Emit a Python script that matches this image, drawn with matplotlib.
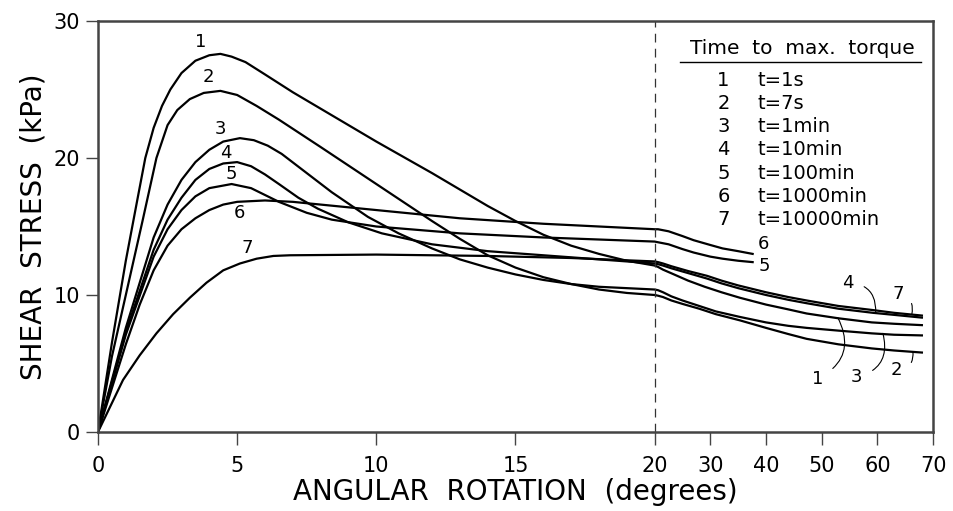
import numpy as np
import matplotlib
matplotlib.use("Agg")
import matplotlib.pyplot as plt

plt.rcParams['font.family'] = ['DejaVu Sans']

# curves: angular rotation (deg) vs shear stress (kPa)
x1 = [0, 0.5, 1, 1.4, 1.7, 2.0, 2.3, 2.6, 3.0, 3.5, 4.0, 4.4, 4.8, 5.3, 6, 7, 8, 10, 12, 13, 14, 15,
      16, 17, 18, 19, 20, 20.6, 21.5, 23.2, 26, 29, 32, 35.3, 40, 44, 47.3, 53, 59, 63, 68]
y1 = [0, 6.5, 12.5, 16.8, 20.0, 22.2, 23.8, 25.0, 26.2, 27.1, 27.5, 27.6, 27.4, 27.0, 26.1, 24.8, 23.6, 21.2, 18.9, 17.7, 16.5, 15.4,
      14.4, 13.6, 13.0, 12.5, 12.15, 12.05, 11.85, 11.55, 11.05, 10.6, 10.2, 9.8, 9.3, 8.95, 8.65, 8.3, 8.0, 7.9, 7.8]

x2 = [0, 0.5, 1, 1.6, 2.1, 2.5, 2.85, 3.3, 3.8, 4.4, 5, 5.7, 6.5, 8, 10, 12, 13, 14, 15, 16, 17, 18, 19, 20,
      20.6, 21.5, 23, 25, 28, 31, 35.3, 40, 44, 47.3, 53, 59, 63, 68]
y2 = [0, 5.5, 10, 15.4, 20.0, 22.4, 23.5, 24.3, 24.75, 24.9, 24.6, 23.8, 22.8, 20.8, 18.1, 15.4, 14.1, 12.9, 12.0, 11.3, 10.8, 10.4, 10.15, 10.0,
      9.95, 9.85, 9.6, 9.35, 9.0, 8.6, 8.15, 7.6, 7.15, 6.8, 6.4, 6.1, 5.95, 5.8]

x3 = [0, 1, 2, 2.5, 3, 3.5, 4, 4.5, 5.1, 5.6, 6.1, 6.6, 7.5, 8.4, 9.7, 10.8, 12, 13, 14, 15, 16, 17, 18, 19, 20,
      20.6, 21.5, 23, 25, 28, 31, 35.3, 40, 44, 47.3, 53, 59, 63, 68]
y3 = [0, 7.6, 14.2, 16.6, 18.4, 19.7, 20.6, 21.2, 21.45, 21.3, 20.9, 20.3, 18.9, 17.5, 15.7, 14.5, 13.4, 12.6, 12.0, 11.5, 11.1, 10.8, 10.6, 10.5, 10.4,
      10.35, 10.2, 9.9, 9.6, 9.2, 8.8, 8.4, 8.0, 7.75, 7.6, 7.4, 7.2, 7.1, 7.05]

x4 = [0, 1, 2, 2.5, 3, 3.5, 4, 4.5, 5, 5.5, 6, 6.5, 7.2, 7.9, 9, 10.2, 12, 14, 16, 18, 20,
      20.6, 21.5, 23, 26, 29.4, 32, 35, 40, 44, 47.3, 53, 59.2, 63, 68]
y4 = [0, 7.3, 13.3, 15.5, 17.1, 18.4, 19.2, 19.6, 19.7, 19.4, 18.8, 18.1, 17.1, 16.3, 15.3, 14.5, 13.7, 13.2, 12.9, 12.6, 12.3,
      12.25, 12.15, 11.95, 11.6, 11.2, 10.85, 10.5, 10.0, 9.65, 9.4, 9.0, 8.7, 8.55, 8.35]

x5 = [0, 1, 2, 2.5, 3, 3.5, 4, 4.8, 5.5, 6, 6.5, 7.5, 8.4, 10, 13, 16, 20,
      20.6, 22.5, 25, 27, 30, 32.2, 35, 37.6]
y5 = [0, 7.1, 12.8, 14.8, 16.2, 17.2, 17.8, 18.1, 17.8, 17.3, 16.8, 16.0, 15.5, 15.0, 14.5, 14.2, 13.9,
      13.85, 13.7, 13.35, 13.1, 12.8, 12.65, 12.5, 12.4]

x6 = [0, 1, 1.5, 2, 2.5, 3, 3.5, 4, 4.5, 5, 6, 7, 8, 10, 13, 16, 20,
      20.6, 22.5, 25, 27, 30, 32.2, 35, 37.6]
y6 = [0, 6.4, 9.3, 11.8, 13.6, 14.8, 15.6, 16.2, 16.6, 16.8, 16.9, 16.8, 16.6, 16.2, 15.6, 15.2, 14.8,
      14.8, 14.65, 14.3, 14.0, 13.65, 13.4, 13.2, 13.0]

x7 = [0, 0.9, 1.5, 2.1, 2.7, 3.3, 3.9, 4.5, 5.1, 5.7, 6.3, 6.9, 10, 14, 17, 20,
      20.6, 21.5, 23, 26, 29.4, 32, 35, 40, 44, 47.3, 53, 59.2, 63, 68]
y7 = [0, 3.8, 5.6, 7.2, 8.6, 9.8, 10.9, 11.8, 12.3, 12.65, 12.85, 12.9, 12.95, 12.85, 12.7, 12.45,
      12.4, 12.3, 12.1, 11.75, 11.4, 11.05, 10.7, 10.2, 9.85, 9.6, 9.2, 8.9, 8.7, 8.5]

curves = [(x1, y1), (x2, y2), (x3, y3), (x4, y4), (x5, y5), (x6, y6), (x7, y7)]
legend_rows = ['t=1s', 't=7s', 't=1min', 't=10min', 't=100min', 't=1000min', 't=10000min']

# curve number labels near the peaks
peak_lbl_x = [3.7, 3.98, 4.4, 4.6, 4.8, 5.1, 5.35]
peak_lbl_y = [28.5, 25.9, 22.1, 20.4, 18.8, 16.0, 13.45]


def fwd(x):
    x = np.asarray(x, dtype=float)
    return np.where(x <= 20, x, 20 + (x - 20) / 5.0)


def inv(u):
    u = np.asarray(u, dtype=float)
    return np.where(u <= 20, u, 20 + (u - 20) * 5.0)


fig = plt.figure(figsize=(9.54, 5.11), dpi=100)
ax = fig.add_axes([0.1027, 0.1546, 0.8753, 0.8043])
ax.set_xscale('function', functions=(fwd, inv))

for cx, cy in curves:
    ax.plot(cx, cy, color='black', lw=1.6, solid_joinstyle='round')

for i in range(7):
    ax.text(peak_lbl_x[i], peak_lbl_y[i], str(i + 1), fontsize=13, ha='center', va='center')

ax.axvline(20, color='#333333', lw=0.9, dashes=(7, 5))

# labels at the right end of the curves
ax.text(38.6, 13.75, '6', fontsize=13, ha='left', va='center')
ax.text(38.6, 12.15, '5', fontsize=13, ha='left', va='center')

leaders = [
    ('4', (54.7, 10.9), (59.7, 8.7), -0.5),
    ('7', (63.7, 10.1), (66.2, 8.6), -0.5),
    ('1', (49.3, 3.9), (52.9, 8.35), 0.5),
    ('3', (56.3, 4.0), (61.0, 7.2), 0.5),
    ('2', (63.5, 4.5), (66.4, 5.85), 0.5),
]
for lbl, tpos, target, rad in leaders:
    ax.annotate(lbl, xy=target, xytext=tpos, fontsize=13, ha='center', va='center',
                arrowprops=dict(arrowstyle='-', lw=0.8, color='black',
                                connectionstyle='arc3,rad=%s' % rad,
                                shrinkA=6, shrinkB=0))

ax.set_xlim(0, 70)
ax.set_ylim(0, 30)
ax.set_xticks([0, 5, 10, 15, 20, 30, 40, 50, 60, 70])
ax.set_xticklabels(['0', '5', '10', '15', '20', '30', '40', '50', '60', '70'])
ax.set_yticks([0, 10, 20, 30])
ax.xaxis.set_minor_locator(plt.NullLocator())
ax.tick_params(axis='both', direction='out', length=9, width=1.0, labelsize=15,
               color='#444444')
ax.tick_params(axis='x', pad=8)
ax.tick_params(axis='y', pad=4)

for s in ax.spines.values():
    s.set_linewidth(1.8)
    s.set_color('#444444')

ax.set_xlabel('ANGULAR  ROTATION  (degrees)', fontsize=20, labelpad=2)
ax.set_ylabel('SHEAR  STRESS  (kPa)', fontsize=20, labelpad=4)

# legend block drawn as text
ax.text(0.843, 0.934, 'Time  to  max.  torque', transform=ax.transAxes, fontsize=14.5,
        ha='center', va='center')
ax.plot([0.697, 0.986], [0.900, 0.900], transform=ax.transAxes, color='black', lw=1.0)
row_y0 = (432 - 80) / 411.0
row_dy = 23.3 / 411.0
for i, row in enumerate(legend_rows):
    yy = row_y0 - i * row_dy
    ax.text(0.749, yy, str(i + 1), transform=ax.transAxes, fontsize=14, ha='center', va='center')
    ax.text(0.790, yy, row, transform=ax.transAxes, fontsize=14, ha='left', va='center')

fig.savefig('out.png', dpi=100)
